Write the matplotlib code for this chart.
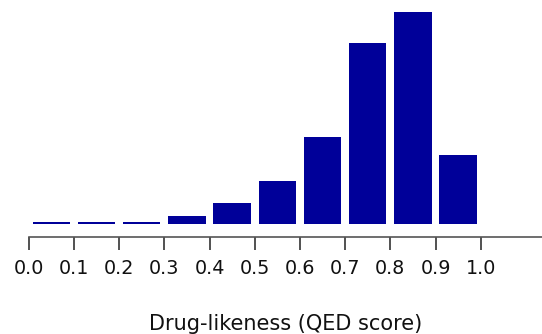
import numpy as np
import matplotlib
matplotlib.use("Agg")
import matplotlib.pyplot as plt

# ============================================================
# DATA
# ============================================================

bin_left = [0.0, 0.1, 0.2, 0.3, 0.4, 0.5, 0.6, 0.7, 0.8, 0.9]
share_pct = [0.37, 0.37, 0.37, 1.27, 3.4, 6.85, 13.9, 28.85, 33.7, 11.0]
tick_values = [0.0, 0.1, 0.2, 0.3, 0.4, 0.5, 0.6, 0.7, 0.8, 0.9, 1.0]
tick_labels = ["0.0", "0.1", "0.2", "0.3", "0.4", "0.5",
               "0.6", "0.7", "0.8", "0.9", "1.0"]

# ============================================================
# PLOT
# ============================================================

plt.rcParams["font.family"] = ["DejaVu Sans"]

fig = plt.figure(figsize=(5.42, 3.34), dpi=100)

ax = fig.add_axes([28.7 / 542, 110 / 334, 1 - 28.7 / 542, 224 / 334])

ax.bar(
    np.array(bin_left) + 0.05,
    share_pct,
    width=0.083,
    color="#000099",
    linewidth=0
)

ax.set_xlim(0, 1.1356)
ax.set_ylim(0, 224 / 212 * 33.7)

for side in ["top", "right", "left"]:
    ax.spines[side].set_visible(False)

ax.spines["bottom"].set_position(("outward", 9))
ax.spines["bottom"].set_color("#555555")
ax.spines["bottom"].set_linewidth(1.2)

ax.set_yticks([])

ax.set_xticks(tick_values)
ax.set_xticklabels(tick_labels)

ax.tick_params(
    axis="x",
    direction="out",
    length=9,
    width=1.2,
    color="#333333",
    pad=7,
    labelsize=13.8,
    labelcolor="#111111"
)

ax.set_xlabel(
    "Drug-likeness (QED score)",
    fontsize=15,
    labelpad=26,
    color="#111111"
)

fig.savefig("out.png", dpi=100)
plt.close(fig)
